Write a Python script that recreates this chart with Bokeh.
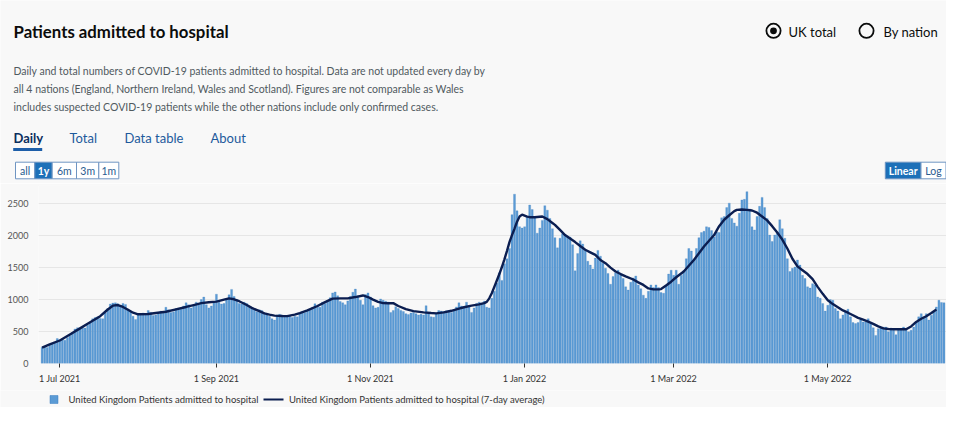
import pandas as pd
from bokeh.plotting import figure
from bokeh.layouts import column
from bokeh.models import Range1d, FixedTicker, ColumnDataSource
from bokeh.embed import file_html
from bokeh.resources import INLINE
from bokeh.core.properties import value

# ---------------- data ----------------
first_date = "2021-06-24"
adm_2021_06 = [255, 262, 250, 285, 305, 335, 390]
adm_2021_07 = [370, 385, 365, 405, 440, 480, 540, 560, 545, 565, 555, 600, 650, 700,
               720, 730, 705, 700, 790, 860, 930, 945, 950, 935, 905, 940, 925, 850,
               820, 740, 690]
adm_2021_08 = [760, 780, 790, 770, 830, 800, 750, 760, 790, 820, 790, 880, 840, 800,
               810, 860, 870, 850, 900, 950, 920, 870, 910, 960, 935, 1000, 1040, 920,
               870, 900, 960]
adm_2021_09 = [1085, 960, 930, 940, 1010, 1075, 1160, 1050, 1000, 940, 930, 960, 940,
               880, 860, 840, 810, 840, 830, 790, 760, 740, 700, 680, 760, 770, 760,
               740, 730, 750]
adm_2021_10 = [720, 740, 730, 790, 810, 800, 830, 850, 880, 935, 900, 880, 960, 940,
               990, 1030, 1105, 1120, 1060, 970, 950, 920, 980, 1050, 1115, 1165, 1060,
               990, 920, 1080, 1105]
adm_2021_11 = [1040, 905, 870, 880, 1010, 990, 975, 960, 800, 830, 890, 860, 830, 815,
               780, 765, 790, 800, 780, 760, 770, 760, 905, 780, 730, 725, 790, 830,
               820, 815]
adm_2021_12 = [825, 830, 800, 830, 885, 950, 900, 880, 960, 890, 800, 870, 940, 960,
               945, 975, 880, 870, 1020, 1130, 1260, 1420, 1300, 1560, 1640, 1800, 2330,
               2650, 2390, 2140, 2120]
adm_2022_01 = [2140, 2300, 2480, 2410, 2300, 2040, 2120, 2240, 2470, 2400, 2270, 2110,
               1970, 1810, 1960, 2030, 2000, 1990, 1980, 1860, 1450, 1720, 1920, 1870,
               1770, 1600, 1540, 1480, 1650, 1770, 1680]
adm_2022_02 = [1570, 1490, 1410, 1240, 1360, 1420, 1460, 1410, 1330, 1200, 1150, 1270,
               1340, 1370, 1230, 1170, 1070, 1020, 1130, 1230, 1190, 1230, 1190, 1110,
               1100, 1230, 1400, 1460]
adm_2022_03 = [1380, 1460, 1240, 1380, 1450, 1640, 1800, 1760, 1630, 1800, 1970, 2050,
               2070, 2140, 2130, 2080, 1980, 2060, 2050, 2280, 2300, 2440, 2510, 2270,
               2200, 2150, 2350, 2560, 2570, 2690, 2420]
adm_2022_04 = [2140, 2090, 2300, 2460, 2600, 2440, 2270, 2010, 1910, 2010, 2060, 2250,
               2110, 1960, 1640, 1440, 1490, 1510, 1620, 1540, 1380, 1330, 1200, 1180,
               1250, 1230, 1040, 1020, 940, 820]
adm_2022_05 = [910, 1000, 990, 860, 820, 700, 760, 820, 850, 730, 640, 625, 640, 680,
               650, 650, 700, 625, 560, 440, 545, 570, 570, 570, 495, 555, 540, 450,
               535, 535, 570]
adm_2022_06 = [545, 495, 520, 570, 650, 730, 780, 730, 780, 680, 755, 810, 885, 990,
               955, 950]

# 7-day average line (day = days after 1 Jul 2021)
avg_day = [-7, -4, 0, 4, 8, 12, 16, 19, 21, 23, 25, 27, 29, 31, 35, 38, 42, 46, 50, 53,
           56, 59, 62, 65, 67, 69, 71, 74, 76, 79, 81, 83, 85, 88, 90, 93, 95, 98, 102,
           105, 108, 111, 114, 117, 120, 122, 124, 126, 128, 130, 132, 134, 137, 140,
           144, 147, 149, 152, 155, 158, 160, 163, 166, 168, 169, 170, 171, 172, 173,
           174, 175, 176, 177, 178, 179, 180, 181, 182, 183, 185, 186, 188, 191, 193,
           195, 196, 198, 200, 202, 204, 206, 208, 210, 212, 214, 216, 218, 220, 222,
           224, 227, 229, 231, 233, 235, 237, 238, 240, 242, 244, 247, 249, 251, 253,
           255, 257, 259, 261, 263, 265, 267, 268, 270, 272, 274, 276, 278, 280, 282,
           284, 286, 288, 290, 292, 294, 296, 298, 300, 302, 304, 306, 308, 310, 312,
           314, 316, 318, 320, 322, 324, 326, 328, 331, 335, 337, 339, 341, 343, 345,
           347]
avg_value = [250, 300, 360, 455, 550, 645, 740, 845, 905, 915, 885, 840, 795, 770, 775,
             790, 810, 848, 885, 915, 945, 958, 968, 1000, 1020, 1005, 975, 915, 870,
             820, 785, 765, 750, 744, 742, 765, 790, 830, 900, 960, 1015, 1020, 1020,
             1040, 1065, 1040, 1000, 965, 945, 942, 945, 900, 850, 820, 800, 790, 785,
             800, 825, 860, 880, 905, 925, 945, 965, 1020, 1100, 1200, 1300, 1400, 1510,
             1630, 1760, 1900, 2010, 2110, 2220, 2300, 2330, 2300, 2290, 2290, 2300,
             2260, 2200, 2170, 2090, 2010, 1955, 1900, 1840, 1780, 1740, 1700, 1620,
             1570, 1500, 1440, 1400, 1365, 1315, 1270, 1230, 1175, 1160, 1160, 1165,
             1220, 1280, 1350, 1440, 1530, 1620, 1725, 1830, 1920, 2010, 2150, 2250,
             2320, 2385, 2405, 2410, 2405, 2395, 2360, 2300, 2240, 2150, 2050, 1940,
             1800, 1640, 1520, 1460, 1400, 1320, 1200, 1090, 990, 930, 880, 830, 795,
             755, 715, 685, 655, 620, 580, 550, 540, 535, 535, 580, 650, 700, 740, 790,
             845]

x_tick_dates = ["2021-07-01", "2021-09-01", "2021-11-01", "2022-01-01", "2022-03-01", "2022-05-01"]
x_tick_labels = ["1 Jul 2021", "1 Sep 2021", "1 Nov 2021", "1 Jan 2022", "1 Mar 2022", "1 May 2022"]
y_ticks = [0, 500, 1000, 1500, 2000, 2500]

title_text = "Patients admitted to hospital"
desc_lines = [
    "Daily and total numbers of COVID-19 patients admitted to hospital. Data are not updated every day by",
    "all 4 nations (England, Northern Ireland, Wales and Scotland). Figures are not comparable as Wales",
    "includes suspected COVID-19 patients while the other nations include only confirmed cases.",
]
tab_labels = ["Daily", "Total", "Data table", "About"]
radio_labels = ["UK total", "By nation"]
range_labels = ["all", "1y", "6m", "3m", "1m"]
scale_labels = ["Linear", "Log"]
legend_labels = ["United Kingdom Patients admitted to hospital",
                 "United Kingdom Patients admitted to hospital (7-day average)"]

# ---------------- styling ----------------
FONT = "Lato"
BG = "#f8f8f8"
BAR_FILL = "#5b9bd5"
BAR_LINE = "#3b7fc0"
AVG_COLOR = "#0b1e51"
BTN_BLUE = "#1d70b8"
BTN_BORDER = "#6f95c2"
W = 946
H_HEAD = 183
H_CHART = 207
H_FOOT = 17

origin = pd.Timestamp("2021-07-01")
daily = (adm_2021_06 + adm_2021_07 + adm_2021_08 + adm_2021_09 + adm_2021_10 +
         adm_2021_11 + adm_2021_12 + adm_2022_01 + adm_2022_02 + adm_2022_03 +
         adm_2022_04 + adm_2022_05 + adm_2022_06)
dates = pd.date_range(first_date, periods=len(daily), freq="D")
day_offset = [int(v) for v in (dates - origin).days]
tick_offsets = [int((pd.Timestamp(d) - origin).days) for d in x_tick_dates]


def pixel_panel(height):
    f = figure(width=W, height=height, x_range=Range1d(0, W), y_range=Range1d(height, 0),
               output_backend="svg", toolbar_location=None, x_axis_location=None,
               y_axis_location=None, min_border=0, frame_align=False)
    f.grid.visible = False
    f.outline_line_color = None
    f.background_fill_color = BG
    f.border_fill_color = BG
    return f


# ---------------- header (title, text, tabs, controls) ----------------
head = pixel_panel(H_HEAD)
head.text(x=[13], y=[31], text=[title_text], text_font=value(FONT), text_font_size="16.8px",
          text_font_style="bold", text_color="#0b0c0c", text_baseline="middle")
head.text(x=[13, 13, 13], y=[70, 88.4, 106.8], text=desc_lines, text_font=value(FONT),
          text_font_size="10.5px", text_color="#505a5f", text_baseline="middle")

# tabs
head.text(x=[13], y=[137.8], text=tab_labels[:1], text_font=value(FONT), text_font_size="13px",
          text_font_style="bold", text_color="#0b2e5e", text_baseline="middle")
head.text(x=[69, 124, 210], y=[137.8] * 3, text=tab_labels[1:], text_font=value(FONT),
          text_font_size="13px", text_color="#1d5a9c", text_baseline="middle")
head.quad(left=[12.7], right=[41.7], top=[147.5], bottom=[150.5], fill_color="#1d5ea8",
          line_color=None)

# radio buttons
head.circle(x=[773, 866], y=[30.3, 30.3], radius=7.1, fill_color=None, line_color="#0b0c0c",
            line_width=1.8)
head.circle(x=[773], y=[30.3], radius=3.4, fill_color="#0b0c0c", line_color=None)
head.text(x=[788, 883], y=[31, 31], text=radio_labels, text_font=value(FONT),
          text_font_size="13px", text_color="#0b0c0c", text_baseline="middle")

# range buttons
rb_edges = [15, 34.3, 51.7, 76, 98.3, 118.3]
rb_sel = 1
head.quad(left=rb_edges[:-1], right=rb_edges[1:], top=[161.7] * 5, bottom=[178.3] * 5,
          fill_color=["white" if i != rb_sel else BTN_BLUE for i in range(5)],
          line_color=BTN_BORDER, line_width=1)
rb_cx = [(rb_edges[i] + rb_edges[i + 1]) / 2 for i in range(5)]
head.text(x=[c for i, c in enumerate(rb_cx) if i != rb_sel], y=[170] * 4,
          text=[t for i, t in enumerate(range_labels) if i != rb_sel], text_font=value(FONT),
          text_font_size="10.5px", text_color="#2a5b8f", text_align="center", text_baseline="middle")
head.text(x=[rb_cx[rb_sel]], y=[170], text=[range_labels[rb_sel]], text_font=value(FONT),
          text_font_size="10.5px", text_font_style="bold", text_color="white",
          text_align="center", text_baseline="middle")

# linear / log buttons
sc_edges = [884.8, 920.5, 945.5]
head.quad(left=sc_edges[:-1], right=sc_edges[1:], top=[161.7] * 2, bottom=[178.3] * 2,
          fill_color=[BTN_BLUE, "white"], line_color=BTN_BORDER, line_width=1)
sc_cx = [(sc_edges[i] + sc_edges[i + 1]) / 2 for i in range(2)]
head.text(x=[sc_cx[0]], y=[170], text=[scale_labels[0]], text_font=value(FONT),
          text_font_size="10.5px", text_font_style="bold", text_color="white",
          text_align="center", text_baseline="middle")
head.text(x=[sc_cx[1]], y=[170], text=[scale_labels[1]], text_font=value(FONT),
          text_font_size="10.5px", text_color="#2a5b8f", text_align="center", text_baseline="middle")

# ---------------- chart ----------------
p = figure(width=W, height=H_CHART, x_range=Range1d(-8.43, 351.0), y_range=Range1d(0, 2786),
           output_backend="svg", toolbar_location=None, min_border_left=38,
           min_border_right=0, min_border_top=2, min_border_bottom=H_CHART - 180,
           frame_align=False)
p.background_fill_color = BG
p.border_fill_color = BG
p.outline_line_color = None

src = ColumnDataSource(dict(x=day_offset, top=daily))
bars = p.vbar(x="x", top="top", width=0.78, source=src, fill_color=BAR_FILL,
              line_color=BAR_LINE, line_width=0.25)
avg_line = p.line(avg_day, avg_value, line_color=AVG_COLOR, line_width=2.4)

p.xgrid.grid_line_color = None
p.ygrid.grid_line_color = "#e6e6e6"

p.yaxis.ticker = FixedTicker(ticks=y_ticks)
p.yaxis.axis_line_color = None
p.yaxis.major_tick_line_color = None
p.yaxis.minor_tick_line_color = None
p.yaxis.major_label_standoff = 4
p.yaxis.major_label_text_font = FONT
p.yaxis.major_label_text_font_size = "9px"
p.yaxis.major_label_text_color = "#555555"

p.xaxis.ticker = FixedTicker(ticks=tick_offsets)
p.xaxis.major_label_overrides = {t: l for t, l in zip(tick_offsets, x_tick_labels)}
p.xaxis.axis_line_color = None
p.xaxis.minor_tick_line_color = None
p.xaxis.major_tick_in = 0
p.xaxis.major_tick_out = 4
p.xaxis.major_tick_line_color = "#333333"
p.xaxis.major_label_standoff = 5
p.xaxis.major_label_text_font = FONT
p.xaxis.major_label_text_font_size = "9px"
p.xaxis.major_label_text_color = "#333333"

# ---------------- legend (footer strip) ----------------
foot = pixel_panel(H_FOOT)
LEG_Y = 9
foot.quad(left=[49.5], right=[57.5], top=[LEG_Y - 4], bottom=[LEG_Y + 4], fill_color=BAR_FILL,
          line_color=BAR_LINE, line_width=0.5)
foot.line([263, 283], [LEG_Y, LEG_Y], line_color=AVG_COLOR, line_width=2.2)
foot.text(x=[68, 288.5], y=[LEG_Y, LEG_Y], text=legend_labels, text_font=value(FONT),
          text_font_size="9.5px", text_color="#333333", text_baseline="middle")

layout = column(head, p, foot, spacing=0)
open("out.html", "w").write(file_html(layout, INLINE))
